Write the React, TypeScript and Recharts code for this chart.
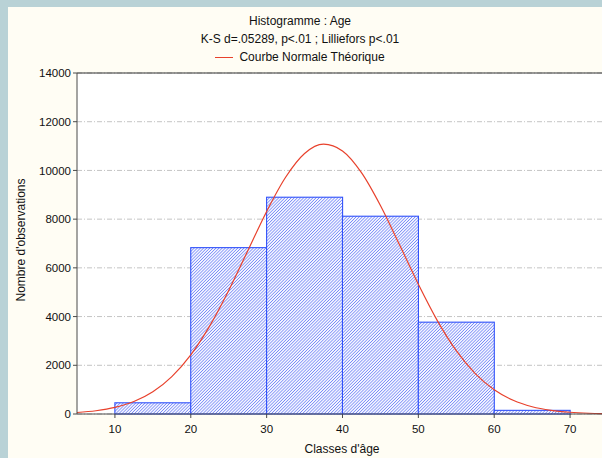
import React from "react";
import { ComposedChart, Bar, Line, XAxis, YAxis, CartesianGrid } from "recharts";

const binCenters = [15, 25, 35, 45, 55, 65];
const binCounts = [460, 6830, 8900, 8120, 3770, 150];

// courbe normale théorique
const curveX = [
  5, 7.5, 10, 12.5, 15, 17.5, 20, 22.5, 25, 27.5, 30, 32.5, 35, 37.5, 40,
  42.5, 45, 47.5, 50, 52.5, 55, 57.5, 60, 62.5, 65, 67.5, 70, 72.5, 75,
];
const curveY = [
  62, 133, 269, 512, 913, 1536, 2430, 3619, 5074, 6692, 8316, 9719, 10695,
  11078, 10800, 9909, 8559, 6958, 5325, 3834, 2599, 1658, 996, 563, 299, 150,
  71, 31, 13,
];

const xTicks = [10, 20, 30, 40, 50, 60, 70];
const yTicks = [0, 2000, 4000, 6000, 8000, 10000, 12000, 14000];

const BIN_WIDTH = 10;
const STEP = 2.5;

const data = curveX.map((x, i) => {
  const b = binCenters.indexOf(x);
  return { x, courbe: curveY[i], count: b >= 0 ? binCounts[b] : null };
});

const FONT = "'Liberation Sans', Arial, sans-serif";

if (typeof document !== "undefined") document.body.style.margin = "0";

// barre d'histogramme : la bande de l'axe vaut un pas de données, on l'élargit à la classe
const HistBar = (props: any) => {
  const { x, y, width, height, payload } = props;
  if (payload == null || payload.count == null || !height) return null;
  const w = (width * BIN_WIDTH) / STEP;
  const cx = x + width / 2;
  return (
    <rect
      x={cx - w / 2}
      y={y}
      width={w}
      height={height}
      fill="url(#hatch)"
      stroke="#3152fa"
      strokeWidth={1.1}
    />
  );
};

const textStyle: React.CSSProperties = {
  position: "absolute",
  fontSize: 12,
  whiteSpace: "nowrap",
  color: "#111",
};

export default function App() {
  return (
    <div
      style={{
        position: "relative",
        width: 602,
        height: 458,
        overflow: "hidden",
        background: "#b9d2d6",
        fontFamily: FONT,
      }}
    >
      <div
        style={{
          position: "absolute",
          left: 8,
          top: 7,
          right: 0,
          bottom: 0,
          background: "#fffdf4",
        }}
      />
      <div style={{ position: "absolute", left: 0, top: 0 }}>
        <ComposedChart
          width={640}
          height={458}
          data={data}
          margin={{ top: 73, right: 32, bottom: 14, left: 0 }}
          barCategoryGap={0}
          barGap={0}
        >
          <defs>
            <pattern
              id="hatch"
              patternUnits="userSpaceOnUse"
              width={2.2}
              height={2.2}
              patternTransform="rotate(45)"
            >
              <rect width={2.2} height={2.2} fill="#f4f5ff" />
              <line x1={0} y1={0} x2={0} y2={2.2} stroke="#5b72f4" strokeWidth={1.2} />
            </pattern>
          </defs>
          <CartesianGrid
            vertical={false}
            fill="#ffffff"
            stroke="#c4c4c4"
            strokeDasharray="5 2 1 2"
          />
          <XAxis
            dataKey="x"
            type="number"
            domain={[5, 75]}
            ticks={xTicks}
            allowDataOverflow
            height={30}
            tickSize={4}
            tickMargin={7}
            stroke="#4a4a4a"
            tick={{ fill: "#111", fontSize: 11.5, fontFamily: FONT }}
          />
          <XAxis
            xAxisId="top"
            dataKey="x"
            type="number"
            orientation="top"
            domain={[5, 75]}
            ticks={xTicks}
            height={1}
            mirror
            tickSize={4}
            tick={false}
            stroke="#333"
          />
          <YAxis
            width={77}
            domain={[0, 14000]}
            ticks={yTicks}
            tickSize={4}
            tickMargin={2}
            stroke="#4a4a4a"
            tick={{ fill: "#111", fontSize: 11.5, fontFamily: FONT }}
          />
          <Bar dataKey="count" shape={HistBar} isAnimationActive={false} />
          <Line
            dataKey="courbe"
            name="Courbe Normale Théorique"
            type="monotone"
            stroke="#e8412c"
            strokeWidth={1.2}
            dot={false}
            isAnimationActive={false}
          />
        </ComposedChart>
      </div>
      <div
        style={{
          position: "absolute",
          top: 12,
          left: 0,
          width: 600,
          textAlign: "center",
          fontSize: 12,
          lineHeight: "18px",
          color: "#111",
        }}
      >
        <div>Histogramme : Age</div>
        <div>K-S d=.05289, p&lt;.01 ; Lilliefors p&lt;.01</div>
        <div>
          <span
            style={{
              display: "inline-block",
              width: 18,
              height: 0,
              borderTop: "1px solid #e8412c",
              verticalAlign: "middle",
              marginRight: 6,
            }}
          />
          Courbe Normale Théorique
        </div>
      </div>
      <div
        style={{
          ...textStyle,
          left: 21,
          top: 240,
          transform: "translate(-50%, -50%) rotate(-90deg)",
        }}
      >
        Nombre d'observations
      </div>
      <div
        style={{
          ...textStyle,
          left: 342,
          top: 449,
          transform: "translate(-50%, -50%)",
        }}
      >
        Classes d'âge
      </div>
    </div>
  );
}
